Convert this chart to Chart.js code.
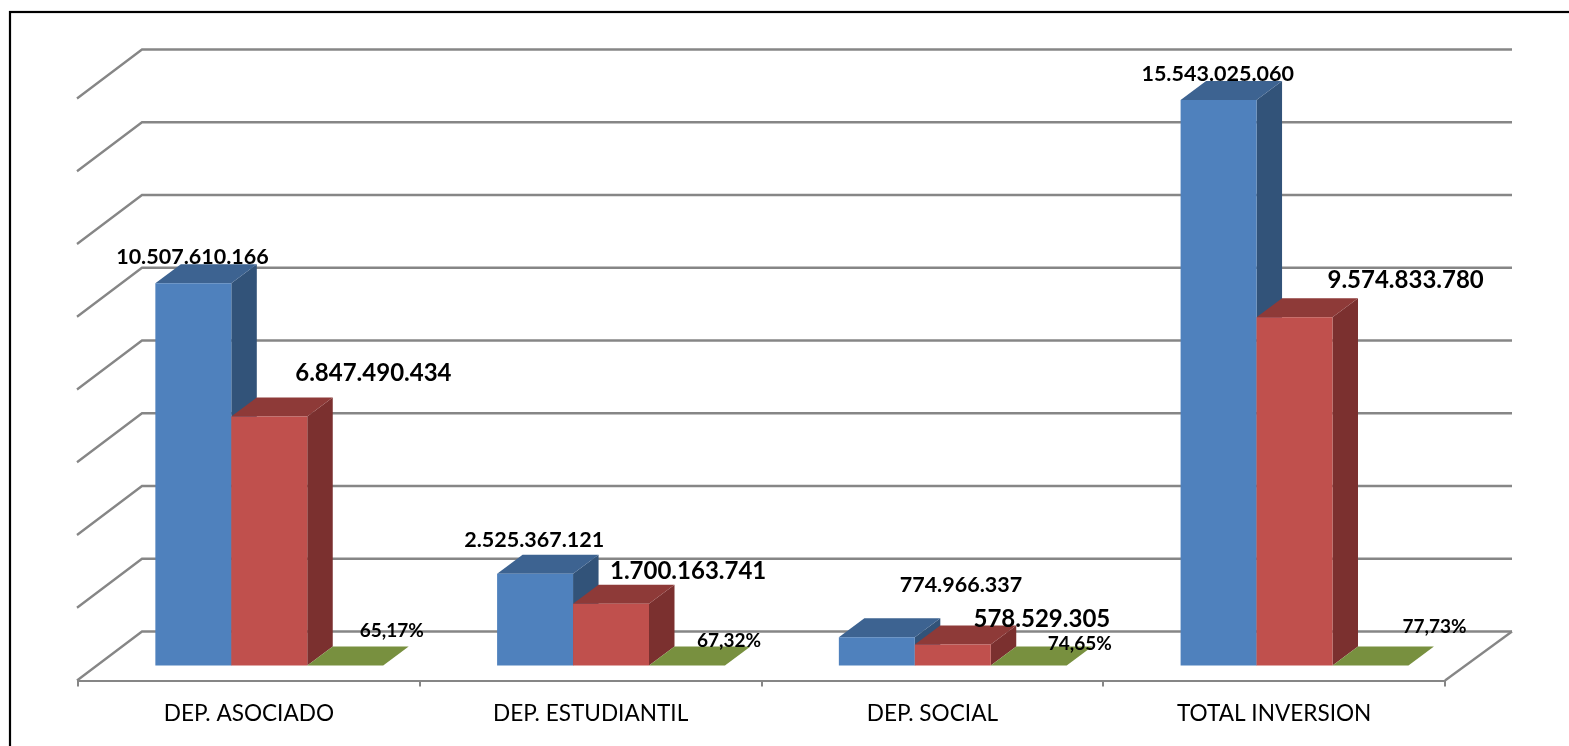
<!DOCTYPE html>
<html><head><meta charset="utf-8">
<style>html,body{margin:0;padding:0;background:#fff;overflow:hidden}canvas{display:block}</style>
<script src="https://cdn.jsdelivr.net/npm/chart.js@4"></script>
</head><body><canvas id="c" width="1569" height="746"></canvas>
<script>
const categories = ['DEP. ASOCIADO','DEP. ESTUDIANTIL','DEP. SOCIAL','TOTAL INVERSION'];
const serieAzul = [10507610166, 2525367121, 774966337, 15543025060];
const serieRoja = [6847490434, 1700163741, 578529305, 9574833780];
const seriePorcentaje = [65.17, 67.32, 74.65, 77.73];
const yMax = 16000000000, yStep = 2000000000;

// 3D look: depth of the room and of the bars, and where bar fronts sit inside it
const ROOM = {dx:65, dy:-49}, BAR_SHIFT = {dx:20.4, dy:-15}, LABEL_SHIFT = {dx:19.5, dy:-15}, BAR_DEPTH = {dx:25.5, dy:-19};
const GRID = '#868686';
const faces = [
  {front:'#4F81BD', side:'#325379', top:'#3D6391'},
  {front:'#C0504D', side:'#7B302F', top:'#8E3A38'},
  {front:'#78903F', side:'#5F7332', top:'#78903F'}
];
const fmtInt = v => String(v).replace(/\B(?=(\d{3})+$)/g,'.');
const fmtPct = v => v.toFixed(2).replace('.',',') + '%';
// manual label placement of the original: centre of each label [x offset from bar centre, y offset from bar top]
const labelStyle = [
  {font:'bold 21.5px Lato', fmt:fmtInt, off:[[0,-26.3],[0,-33.6],[85,-52.3],[0,-26.5]]},
  {font:'bold 24px Lato',   fmt:fmtInt, off:[[105,-43.5],[78,-32.6],[90,-25.5],[112,-37]]},
  {font:'bold 19px Lato',   fmt:fmtPct, off:[[47.5,-34.5],[43,-24.5],[52,-21.5],[65,-38.5]]}
];

function drawExtrusion(ctx, meta, f){
  meta.data.forEach(b=>{
    const {x,y,base,width}=b.getProps(['x','y','base','width'],true);
    const l=x-width/2,r=x+width/2,dx=BAR_DEPTH.dx,dy=BAR_DEPTH.dy;
    ctx.fillStyle=f.side;
    ctx.beginPath();ctx.moveTo(r,y);ctx.lineTo(r+dx,y+dy);ctx.lineTo(r+dx,base+dy);ctx.lineTo(r,base);ctx.closePath();ctx.fill();
    ctx.fillStyle=f.top;
    ctx.beginPath();ctx.moveTo(l,y);ctx.lineTo(r,y);ctx.lineTo(r+dx,y+dy);ctx.lineTo(l+dx,y+dy);ctx.closePath();ctx.fill();
  });
}

const room3d = {
  id:'room3d',
  beforeDatasetsDraw(chart){
    const {ctx, chartArea:a, scales:{y}} = chart;
    ctx.save();
    // frame
    ctx.strokeStyle='#000'; ctx.lineWidth=2.2;
    ctx.strokeRect(10,12,1700,1000);
    ctx.strokeStyle=GRID; ctx.lineWidth=2.3;
    y.ticks.forEach(t=>{
      const py=y.getPixelForValue(t.value);
      ctx.beginPath();
      ctx.moveTo(a.left-1,py);
      ctx.lineTo(a.left+ROOM.dx-1,py+ROOM.dy);
      ctx.lineTo(a.right+ROOM.dx+2,py+ROOM.dy);
      ctx.stroke();
    });
    ctx.beginPath();
    ctx.moveTo(a.right,a.bottom);
    ctx.lineTo(a.right+ROOM.dx+2,a.bottom+ROOM.dy);
    ctx.stroke();
    ctx.restore();
    // left-to-right painter's order: each series' sides and tops, then its library-drawn fronts
    chart.data.datasets.forEach((ds,i)=>{
      const meta=chart.getDatasetMeta(i);
      ctx.save();
      ctx.translate(BAR_SHIFT.dx,BAR_SHIFT.dy);
      drawExtrusion(ctx,meta,faces[i]);
      meta.controller.draw();
      ctx.restore();
    });
  },
  beforeDatasetDraw(){ return false; },
  afterDatasetsDraw(chart){
    const ctx=chart.ctx;
    ctx.save();
    ctx.fillStyle='#000';ctx.textAlign='center';ctx.textBaseline='middle';
    chart.data.datasets.forEach((ds,i)=>{
      const s=labelStyle[i];
      ctx.font=s.font;
      chart.getDatasetMeta(i).data.forEach((b,j)=>{
        const p=b.getProps(['x','y'],true);
        ctx.fillText(s.fmt(ds.data[j]),p.x+LABEL_SHIFT.dx+s.off[j][0],p.y+LABEL_SHIFT.dy+s.off[j][1]);
      });
    });
    ctx.restore();
  }
};

new Chart(document.getElementById('c'),{
  type:'bar',
  data:{labels:categories,datasets:[
    {label:'Serie 1',data:serieAzul,backgroundColor:faces[0].front},
    {label:'Serie 2',data:serieRoja,backgroundColor:faces[1].front},
    {label:'%',data:seriePorcentaje,backgroundColor:faces[2].front}
  ]},
  options:{
    responsive:false,animation:false,
    categoryPercentage:0.6667,barPercentage:1,
    layout:{padding:{left:78,right:124,top:98.5,bottom:0}},
    plugins:{legend:{display:false},tooltip:{enabled:false},title:{display:false}},
    scales:{
      x:{
        afterFit(s){s.height=65.5;},
        grid:{display:true,drawOnChartArea:false,drawTicks:true,tickLength:6,color:GRID,lineWidth:2},
        border:{display:true,color:GRID,width:2},
        ticks:{color:'#000',font:{family:'Lato',size:22.6},padding:14,maxRotation:0,autoSkip:false}
      },
      y:{display:false,min:0,max:yMax,ticks:{stepSize:yStep}}
    }
  },
  plugins:[room3d]
});
</script></body></html>
